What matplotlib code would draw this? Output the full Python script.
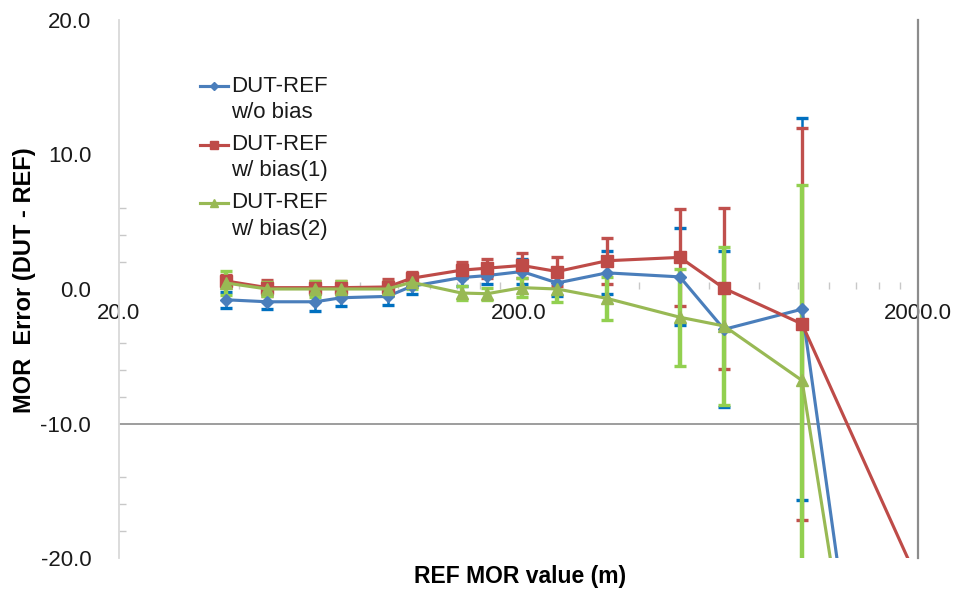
import matplotlib
matplotlib.use("Agg")
import matplotlib.pyplot as plt
from matplotlib.lines import Line2D
from matplotlib.ticker import FixedLocator, NullFormatter

plt.rcParams["font.family"] = ["Liberation Sans", "DejaVu Sans"]

# REF MOR values (m); the last point lies off the bottom of the chart
ref_mor = [37, 47, 62, 72, 94, 108, 144, 167, 204, 250, 333, 507, 654, 1025, 2000]

err_no_bias = [-0.8, -0.95, -0.95, -0.65, -0.55, 0.2, 0.85, 1.0, 1.3, 0.45, 1.2, 0.9, -3.0, -1.5, -63.0]
err_bias1 = [0.6, 0.1, 0.1, 0.1, 0.15, 0.8, 1.4, 1.55, 1.75, 1.3, 2.1, 2.35, 0.05, -2.6, -21.7]
err_bias2 = [0.45, 0.0, 0.0, 0.0, 0.0, 0.5, -0.3, -0.35, 0.1, 0.0, -0.7, -2.1, -2.75, -6.8, -61.0]

sd_no_bias = [0.6, 0.55, 0.65, 0.65, 0.65, 0.6, 0.6, 0.6, 0.9, 1.0, 1.6, 3.6, 5.8, 14.2, 0]
sd_bias1 = [0.45, 0.6, 0.5, 0.5, 0.6, 0.5, 0.6, 0.7, 0.9, 1.1, 1.7, 3.6, 6.0, 14.6, 0]
sd_bias2 = [0.9, 0.5, 0.6, 0.6, 0.55, 0.5, 0.5, 0.45, 0.7, 1.0, 1.6, 3.6, 5.9, 14.5, 0]

legend_lines = [("DUT-REF", "w/o bias"), ("DUT-REF", "w/ bias(1)"), ("DUT-REF", "w/ bias(2)")]

x_ticks = [20, 200, 2000]
x_tick_labels = ["20.0", "200.0", "2000.0"]
y_ticks = [-20, -10, 0, 10, 20]
y_minor = [-18, -16, -14, -8, -6, -4, 2, 4, 6]

W, H = 958, 590
fig = plt.figure(figsize=(W / 100, H / 100), dpi=100)
ax = fig.add_axes([119 / W, 1 - 558 / H, (918 - 119) / W, (558 - 20) / H])

series = [
    (err_no_bias, sd_no_bias, "#4A7EBB", "#0070C0", "D", 6, 1.8),
    (err_bias1, sd_bias1, "#BE4B48", "#C0504D", "s", 8, 2.4),
    (err_bias2, sd_bias2, "#98B954", "#92D050", "^", 8.5, 3.2),
]

for i, (vals, sd, color, ecolor, marker, ms, elw) in enumerate(series):
    ax.errorbar(ref_mor, vals, yerr=sd, fmt="none", ecolor=ecolor,
                elinewidth=elw, capsize=4, capthick=2.4, zorder=2 + i * 0.1)
    ax.plot(ref_mor, vals, color=color, lw=2.25, marker=marker, ms=ms,
            zorder=3 + i * 0.1)

ax.set_xscale("log")
ax.set_xlim(20, 2000)
ax.set_ylim(-20, 20)

ax.xaxis.set_major_locator(FixedLocator(x_ticks))
ax.set_xticklabels(x_tick_labels)
ax.xaxis.set_minor_locator(FixedLocator([20 * k * 10 ** n for n in (0, 1) for k in range(2, 10)]))
ax.xaxis.set_minor_formatter(NullFormatter())
ax.set_yticks(y_ticks)
ax.set_yticklabels([f"{v:.1f}" for v in y_ticks])
ax.yaxis.set_minor_locator(FixedLocator(y_minor))

ax.tick_params(axis="both", which="major", length=0, labelsize=16, labelcolor="#1a1a1a")
ax.tick_params(axis="x", which="major", pad=10)
ax.tick_params(axis="y", which="major", pad=20)
ax.tick_params(axis="both", which="minor", direction="in", length=5, width=1, color="#c8c8c8")

ax.spines["top"].set_visible(False)
ax.spines["bottom"].set_position(("data", 0))
ax.spines["bottom"].set_color("none")
ax.spines["left"].set_color("#d9d9d9")
ax.spines["left"].set_linewidth(1.3)
ax.spines["right"].set_color("#8c8c8c")
ax.spines["right"].set_linewidth(1.6)
ax.axhline(-10, color="#8c8c8c", lw=1.2, zorder=1)

# legend: handle lines up with the first line of each two-line label
for i, (l1, l2) in enumerate(legend_lines):
    _, _, color, _, marker, ms, _ = series[i]
    y = 86 + i * 58.5
    fig.add_artist(Line2D([200 / W, 214 / W, 228 / W], [1 - y / H] * 3, color=color,
                          lw=2.25, marker=marker, ms=ms * 0.7, markevery=[1]))
    fig.text(231 / W, 1 - y / H, l1, va="center", ha="left", fontsize=16, color="#1a1a1a")
    fig.text(231 / W, 1 - (y + 26) / H, l2, va="center", ha="left", fontsize=16, color="#1a1a1a")

fig.text(25 / W, 1 - 280 / H, "MOR  Error (DUT - REF)", rotation=90, ha="center",
         va="center", fontsize=17, fontweight="bold")
fig.text(520 / W, 1 - 577 / H, "REF MOR value (m)", ha="center", va="center",
         fontsize=16.5, fontweight="bold")

fig.savefig("out.png", dpi=100)
